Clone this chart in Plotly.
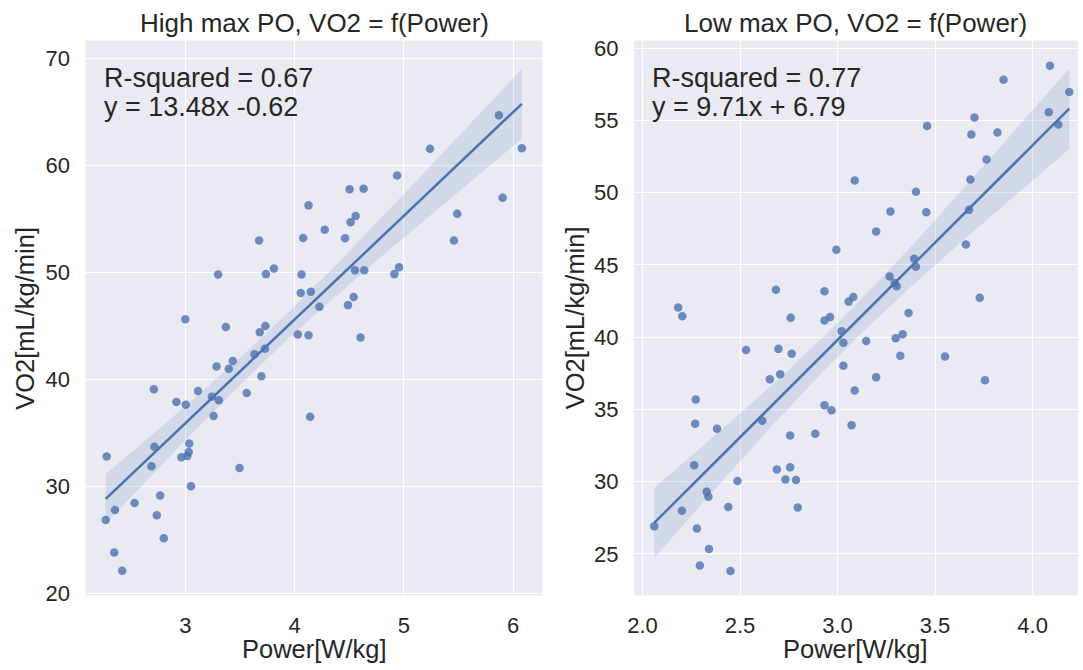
import numpy as np
import plotly.graph_objects as go

# ---------------- data ----------------
high_power = [3.675, 4.079, 3.300, 3.738, 3.811, 4.064, 4.057, 3.000, 5.871, 6.081,
              5.240, 4.939, 4.504, 4.632, 4.128, 5.905, 5.489, 4.559, 4.513, 4.276,
              4.462, 5.459, 4.553, 4.638, 4.914, 4.957, 4.149, 4.541, 4.228, 4.489,
              3.371, 3.681, 3.733, 4.030, 4.128, 3.729, 3.633, 3.435, 3.286, 3.398,
              3.696, 2.712, 3.116, 3.562, 3.243, 3.307, 2.918, 3.004, 3.259, 3.036,
              2.717, 3.031, 3.018, 2.964, 2.280, 2.690, 3.496, 3.052, 2.769, 2.535,
              2.356, 2.271, 2.739, 2.803, 2.349, 2.422, 4.604, 4.143]
high_vo2 = [52.97, 53.20, 49.80, 49.83, 50.35, 49.80, 48.06, 45.60, 64.69, 61.60,
            61.55, 59.05, 57.77, 57.82, 56.26, 56.97, 55.47, 55.26, 54.68, 53.97,
            53.19, 52.97, 50.19, 50.19, 49.83, 50.47, 48.18, 47.69, 46.78, 46.93,
            44.88, 44.40, 44.97, 44.18, 44.12, 42.84, 42.34, 41.70, 41.19, 40.97,
            40.27, 39.05, 38.90, 38.72, 38.35, 38.04, 37.86, 37.62, 36.55, 33.98,
            33.68, 33.19, 32.82, 32.70, 32.76, 31.85, 31.69, 29.98, 29.13, 28.42,
            27.76, 26.84, 27.27, 25.13, 23.79, 22.08, 43.90, 36.48]

low_power = [2.183, 2.204, 2.684, 2.933, 2.994, 3.057, 4.089, 3.851, 4.188, 4.083,
             4.132, 3.702, 3.459, 3.686, 3.820, 3.764, 3.088, 3.681, 3.402, 3.271,
             3.455, 3.674, 3.198, 3.658, 3.393, 3.402, 3.267, 3.293, 3.303, 3.081,
             3.729, 3.364, 3.021, 3.030, 3.147, 3.298, 3.334, 3.322, 3.551, 3.756,
             3.030, 3.198, 3.088, 3.072, 2.760, 2.933, 2.962, 2.531, 2.697, 2.765,
             2.653, 2.706, 2.273, 2.933, 2.969, 2.270, 2.382, 2.614, 2.757, 2.886,
             2.265, 2.689, 2.757, 2.733, 2.787, 2.487, 2.329, 2.338, 2.202, 2.440,
             2.796, 2.060, 2.279, 2.341, 2.294, 2.451]
low_vo2 = [42.05, 41.45, 43.29, 43.18, 46.05, 42.46, 58.79, 57.82, 56.96, 55.56,
           54.72, 55.20, 54.61, 54.02, 54.16, 52.30, 50.85, 50.91, 50.07, 48.69,
           48.65, 48.81, 47.32, 46.41, 45.42, 44.88, 44.20, 43.75, 43.52, 42.78,
           42.73, 41.67, 40.41, 39.61, 39.73, 39.93, 40.20, 38.71, 38.67, 37.02,
           38.03, 37.22, 36.31, 33.90, 41.35, 41.15, 41.40, 39.12, 39.19, 38.85,
           37.09, 37.43, 35.68, 35.28, 34.94, 34.01, 33.67, 34.21, 33.20, 33.31,
           31.14, 30.85, 30.99, 30.15, 30.11, 30.04, 29.30, 28.96, 27.98, 28.25,
           28.21, 26.92, 26.76, 25.34, 24.19, 23.81]

titles = ["High max PO, VO2 = f(Power)", "Low max PO, VO2 = f(Power)"]
stat_lines = [["R-squared = 0.67", "y = 13.48x -0.62"],
              ["R-squared = 0.77", "y = 9.71x + 6.79"]]
x_label = "Power[W/kg]"
y_label = "VO2[mL/kg/min]"
left_xticks = [3, 4, 5, 6]
left_yticks = [20, 30, 40, 50, 60, 70]
right_xticks = [2.0, 2.5, 3.0, 3.5, 4.0]
right_yticks = [25, 30, 35, 40, 45, 50, 55, 60]

# ---------------- style ----------------
BLUE = "#4C72B0"
TXT = "#262626"
FONT = "Liberation Sans, Arial, sans-serif"
W, H = 1083, 670


def fit_with_ci(x, y, t_crit=1.995):
    x = np.asarray(x, float)
    y = np.asarray(y, float)
    slope, icpt = np.polyfit(x, y, 1)
    xs = np.linspace(x.min(), x.max(), 100)
    yhat = slope * xs + icpt
    resid = y - (slope * x + icpt)
    n = len(x)
    s = np.sqrt(np.sum(resid ** 2) / (n - 2))
    sxx = np.sum((x - x.mean()) ** 2)
    se = s * np.sqrt(1.0 / n + (xs - x.mean()) ** 2 / sxx)
    return xs, yhat, yhat - t_crit * se, yhat + t_crit * se


fig = go.Figure()

panels = [
    (high_power, high_vo2, "x", "y"),
    (low_power, low_vo2, "x2", "y2"),
]

for px_, py_, xa, ya in panels:
    xs, yh, lo, hi = fit_with_ci(px_, py_)
    fig.add_trace(go.Scatter(x=px_, y=py_, mode="markers", xaxis=xa, yaxis=ya,
                             marker=dict(size=8.5, color="rgba(76,114,176,0.8)", line=dict(width=0)),
                             showlegend=False, hoverinfo="skip"))
    fig.add_trace(go.Scatter(x=np.concatenate([xs, xs[::-1]]), y=np.concatenate([hi, lo[::-1]]),
                             mode="lines", fill="toself", fillcolor="rgba(76,114,176,0.15)",
                             line=dict(width=0), xaxis=xa, yaxis=ya, showlegend=False, hoverinfo="skip"))
    fig.add_trace(go.Scatter(x=xs, y=yh, mode="lines", line=dict(color=BLUE, width=2.5),
                             xaxis=xa, yaxis=ya, showlegend=False, hoverinfo="skip"))

PT, PB = 37.3, 604.0
ydom = [1 - PB / H, 1 - PT / H]
dom_left = [79 / W, 539 / W]
dom_right = [631 / W, 1078 / W]

axis_common = dict(showgrid=True, gridcolor="white", gridwidth=1.3, zeroline=False,
                   showline=False, ticks="outside", ticklen=10, tickcolor="rgba(0,0,0,0)",
                   tickfont=dict(size=22, color=TXT, family=FONT))

fig.update_layout(
    width=W, height=H,
    margin=dict(l=0, r=0, t=0, b=0),
    paper_bgcolor="white", plot_bgcolor="#EAEAF2",
    font=dict(family=FONT, color=TXT),
    showlegend=False,
    xaxis=dict(domain=dom_left, anchor="y", range=[2.086, 6.27], tickvals=left_xticks, **axis_common),
    yaxis=dict(domain=ydom, anchor="x", range=[19.78, 71.68], tickvals=left_yticks, **axis_common),
    xaxis2=dict(domain=dom_right, anchor="y2", range=[1.956, 4.233], tickvals=right_xticks,
                tickformat=".1f", **axis_common),
    yaxis2=dict(domain=ydom, anchor="x2", range=[22.13, 60.53], tickvals=right_yticks, **axis_common),
)

ytitle_x = [18 / W, 572 / W]
for i, (dom, xr, yr) in enumerate([(dom_left, "x domain", "y domain"), (dom_right, "x2 domain", "y2 domain")]):
    cx = (dom[0] + dom[1]) / 2
    fig.add_annotation(text=titles[i], xref="paper", yref="paper", x=cx,
                       y=1 - 19 / H, xanchor="center", yanchor="middle", showarrow=False,
                       font=dict(size=26, color=TXT, family=FONT))
    fig.add_annotation(text=x_label, xref="paper", yref="paper", x=cx,
                       y=1 - 659 / H, xanchor="center", yanchor="middle", showarrow=False,
                       font=dict(size=25.5, color=TXT, family=FONT))
    fig.add_annotation(text=y_label, xref="paper", yref="paper", x=ytitle_x[i],
                       y=1 - ((PT + PB) / 2) / H, xanchor="center", yanchor="middle", showarrow=False,
                       textangle=-90, font=dict(size=25.5, color=TXT, family=FONT))
    fig.add_annotation(text=stat_lines[i][0], xref=xr, yref=yr, x=0.037, y=1 - (75.5 - PT) / (PB - PT),
                       xanchor="left", yanchor="middle", showarrow=False,
                       font=dict(size=27, color=TXT, family=FONT))
    fig.add_annotation(text=stat_lines[i][1], xref=xr, yref=yr, x=0.037, y=1 - (105.5 - PT) / (PB - PT),
                       xanchor="left", yanchor="middle", showarrow=False,
                       font=dict(size=27, color=TXT, family=FONT))

fig.write_html("out.html")
